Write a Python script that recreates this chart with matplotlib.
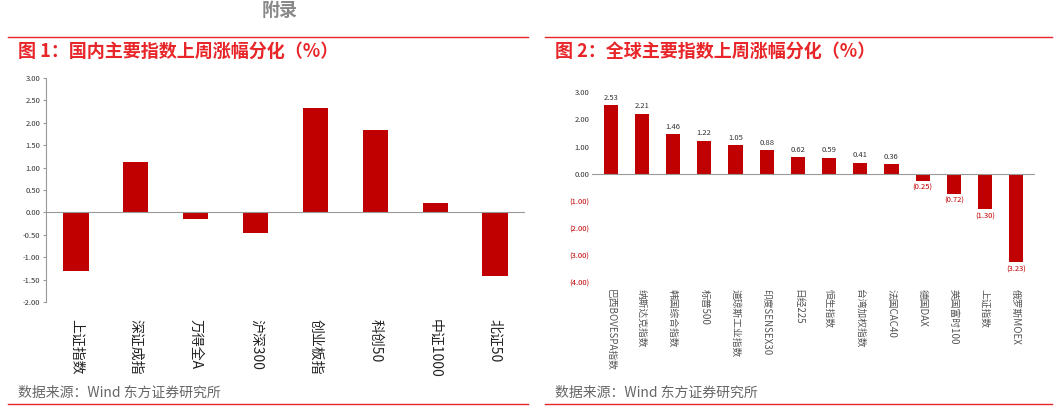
import matplotlib
matplotlib.use("Agg")
import matplotlib.pyplot as plt
from matplotlib.lines import Line2D

plt.rcParams['font.family'] = ['Noto Sans CJK SC', 'DejaVu Sans']

cn_labels = ["上证指数", "深证成指", "万得全A", "沪深300", "创业板指", "科创50", "中证1000", "北证50"]
cn_values = [-1.30, 1.13, -0.15, -0.45, 2.33, 1.83, 0.20, -1.42]

gl_labels = ["巴西BOVESPA指数", "纳斯达克指数", "韩国综合指数", "标普500", "道琼斯工业指数", "印度SENSEX30",
             "日经225", "恒生指数", "台湾加权指数", "法国CAC40", "德国DAX", "英国富时100", "上证指数", "俄罗斯MOEX"]
gl_values = [2.53, 2.21, 1.46, 1.22, 1.05, 0.88, 0.62, 0.59, 0.41, 0.36, -0.25, -0.72, -1.30, -3.23]

RED = "#C00000"
TRED = "#E8262A"
W, H = 1061, 411
fig = plt.figure(figsize=(W/100, H/100), dpi=100)

def fx(x): return x / W
def fy(y): return 1 - y / H

# header lines and titles
fig.text(fx(280), fy(10), "附录", ha="center", va="center", fontsize=13, color="#888888", weight="bold")
for x0, x1 in [(8, 528), (545, 1052)]:
    fig.add_artist(Line2D([fx(x0), fx(x1)], [fy(37), fy(37)], color=TRED, lw=1))
    fig.add_artist(Line2D([fx(x0), fx(x1)], [fy(404), fy(404)], color=TRED, lw=1))
fig.text(fx(18), fy(51), "图 1：国内主要指数上周涨幅分化（%）", fontsize=13, color=TRED, weight="bold", va="center")
fig.text(fx(555), fy(51), "图 2：全球主要指数上周涨幅分化（%）", fontsize=13, color=TRED, weight="bold", va="center")
fig.text(fx(18), fy(393), "数据来源：Wind 东方证券研究所", fontsize=10, color="#666666", va="center")
fig.text(fx(555), fy(393), "数据来源：Wind 东方证券研究所", fontsize=10, color="#666666", va="center")

# left chart
ax1 = fig.add_axes([fx(46), fy(302), fx(525-46), fy(78)-fy(302)])
x = range(len(cn_values))
ax1.bar(x, cn_values, width=0.42, color=RED)
ax1.set_ylim(-2, 3)
ax1.set_xlim(-0.5, len(cn_values)-0.5)
ax1.set_yticks([i*0.5 for i in range(-4, 7)])
ax1.set_yticklabels([f"{v:.2f}" for v in [i*0.5 for i in range(-4, 7)]], fontsize=5.5, color="#333333")
ax1.set_xticks(list(x))
ax1.set_xticklabels(cn_labels, rotation=270, fontsize=10, color="#222222")
ax1.tick_params(axis='x', length=0, pad=12)
ax1.tick_params(axis='y', length=2, color="#999999", pad=2)
for s in ["top", "right", "bottom"]:
    ax1.spines[s].set_visible(False)
ax1.spines["left"].set_color("#999999")
ax1.axhline(0, color="#999999", lw=0.8)

# right chart
ax2 = fig.add_axes([fx(592), fy(283), fx(1035-592), fy(92)-fy(283)])
x2 = range(len(gl_values))
ax2.bar(x2, gl_values, width=0.45, color=RED)
ax2.set_ylim(-4, 3)
ax2.set_xlim(-0.6, len(gl_values)-0.4)
yt = list(range(-4, 4))
ax2.set_yticks(yt)
ax2.set_yticklabels([f"{v:.2f}" if v >= 0 else f"({-v:.2f})" for v in yt], fontsize=5.5,
                    color="#333333")
for lab, v in zip(ax2.get_yticklabels(), yt):
    if v < 0:
        lab.set_color(RED)
ax2.set_xticks(list(x2))
ax2.set_xticklabels(gl_labels, rotation=270, fontsize=7, color="#555555")
ax2.tick_params(axis='x', length=0, pad=4)
ax2.tick_params(axis='y', length=0, pad=2)
for s in ax2.spines.values():
    s.set_visible(False)
ax2.axhline(0, color="#999999", lw=0.8)
for xi, v in zip(x2, gl_values):
    if v >= 0:
        ax2.text(xi, v + 0.12, f"{v:.2f}", ha="center", va="bottom", fontsize=5.5, color="#333333")
    else:
        ax2.text(xi, v - 0.12, f"({-v:.2f})", ha="center", va="top", fontsize=5.5, color=RED)

fig.savefig("out.png", dpi=100)
